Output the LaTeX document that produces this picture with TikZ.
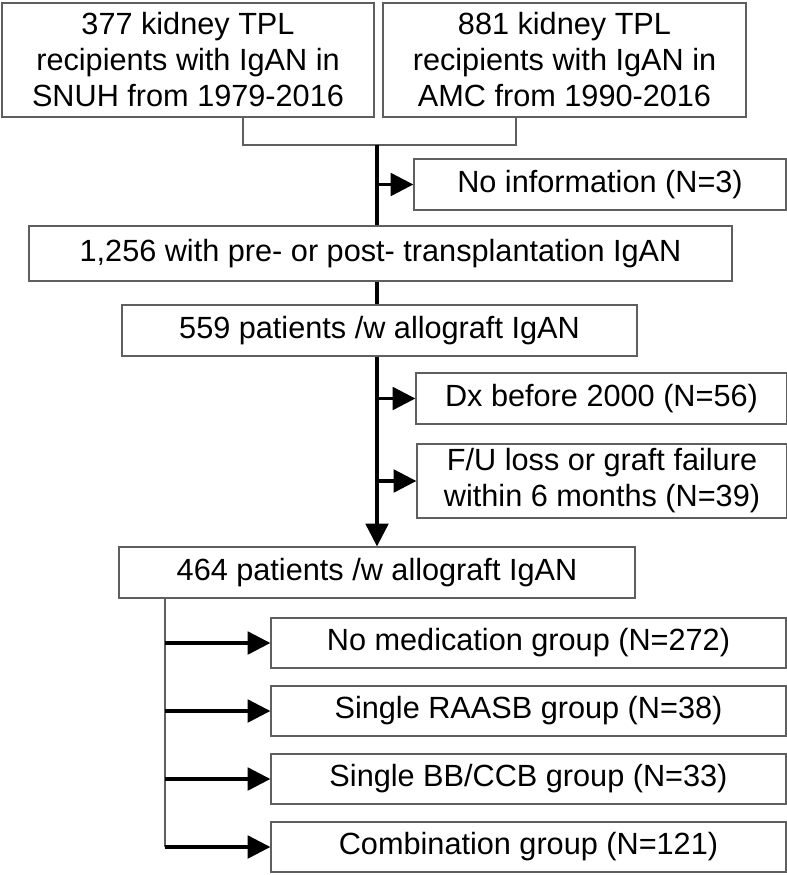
\documentclass[tikz,border=0pt]{standalone}
\usepackage{fontspec}
\setmainfont{Liberation Sans}
\usetikzlibrary{arrows.meta}
\definecolor{boxgray}{RGB}{95,95,95}
\tikzset{
  box/.style={draw=boxgray, line width=1pt, inner sep=0pt, align=center,
    font=\fontsize{23}{27}\selectfont},
  thinline/.style={draw=boxgray, line width=0.9pt},
  thickline/.style={draw=black, line width=2.3pt},
  arrowline/.style={thickline, -{Triangle[length=17pt,width=17pt]}},
}
\begin{document}
\begin{tikzpicture}[x=0.75pt,y=0.75pt,yscale=-1,xscale=1]
\useasboundingbox (0,0) rectangle (787,875);

%Shape: Rectangle [sources]
\node[box, minimum width=279pt, minimum height=85.5pt] (snuh) at (188,60) {377 kidney TPL\\recipients with IgAN in\\SNUH from 1979-2016};
\node[box, minimum width=272.25pt, minimum height=85.5pt] (amc) at (564.5,60) {881 kidney TPL\\recipients with IgAN in\\AMC from 1990-2016};
%Shape: Rectangle [main column]
\node[box, minimum width=527.25pt, minimum height=41.25pt] (all) at (380.5,253.5) {1,256 with pre- or post- transplantation IgAN};
\node[box, minimum width=386.25pt, minimum height=38.25pt] (pat559) at (379.5,330.5) {559 patients /w allograft IgAN};
\node[box, minimum width=387pt, minimum height=38.25pt] (pat464) at (377,572.5) {464 patients /w allograft IgAN};
%Shape: Rectangle [exclusions]
\node[box, minimum width=279pt, minimum height=38.25pt] (noinfo) at (600,184.5) {No information (N=3)};
\node[box, minimum width=278.25pt, minimum height=38.25pt] (dx) at (601.5,398.5) {Dx before 2000 (N=56)};
\node[box, minimum width=277.5pt, minimum height=55.5pt] (fuloss) at (602,481) {F/U loss or graft failure\\within 6 months (N=39)};
%Shape: Rectangle [groups]
\node[box, minimum width=386.25pt, minimum height=37.5pt] (nomed) at (528.5,643) {No medication group (N=272)};
\node[box, minimum width=386.25pt, minimum height=37.5pt] (raasb) at (528.5,711) {Single RAASB group (N=38)};
\node[box, minimum width=386.25pt, minimum height=37.5pt] (bbccb) at (528.5,779) {Single BB/CCB group (N=33)};
\node[box, minimum width=386.25pt, minimum height=37.5pt] (combo) at (528.5,847) {Combination group (N=121)};

\coordinate (leftjoint) at (243,145);
\coordinate (rightjoint) at (516,145);
\coordinate (join) at (377,145);
\coordinate (branch) at (165,847);

%Straight Lines [merge]
\draw[thinline] (snuh.south -| leftjoint) -- (leftjoint) -- (rightjoint) -- (amc.south -| rightjoint);
%Straight Lines [spine]
\draw[thickline] (join) -- (all.north -| join);
\draw[thickline] (all.south -| join) -- (pat559.north -| join);
\draw[arrowline] (pat559.south -| join) -- (pat464.north -| join);
\draw[arrowline] (join |- noinfo.west) -- (noinfo.west);
\draw[arrowline] (join |- dx.west) -- (dx.west);
\draw[arrowline] (join |- fuloss.west) -- (fuloss.west);
%Straight Lines [branch]
\draw[thinline] (pat464.south -| branch) -- (branch);
\foreach \g in {nomed,raasb,bbccb,combo}
  \draw[arrowline] (branch |- \g.west) -- (\g.west);

\end{tikzpicture}
\end{document}
